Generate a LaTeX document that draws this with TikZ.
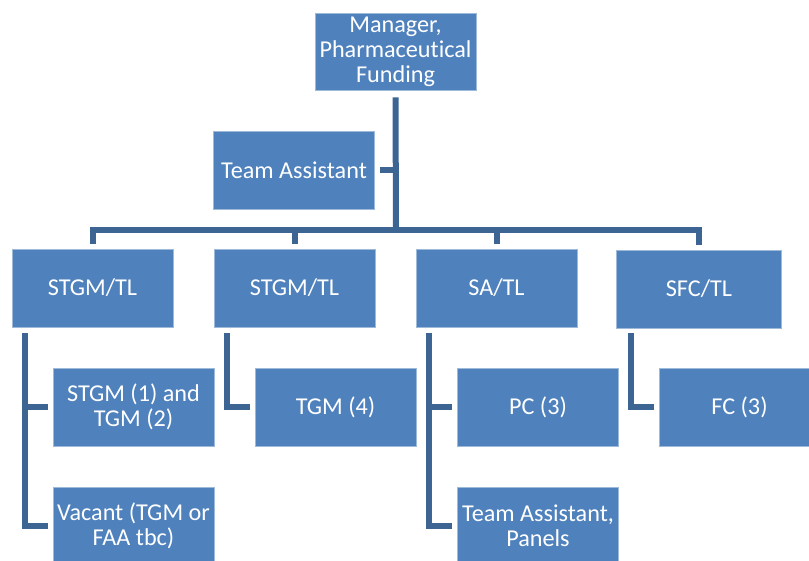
\documentclass[tikz,border=0pt]{standalone}
\usepackage{fontspec}
\setmainfont{Carlito}[Ligatures=NoCommon]
\usetikzlibrary{positioning,calc}
\definecolor{boxblue}{HTML}{4F81BD}
\definecolor{lineblue}{HTML}{3C6594}

\begin{document}
\begin{tikzpicture}[x=1pt, y=1pt, every node/.style={font=\fontsize{24.2}{25}\selectfont, text=white},
    orgbox/.style={fill=boxblue, draw=boxblue!55!white, line width=0.7pt, minimum width=161pt, minimum height=78pt, inner sep=0pt, align=center},
    link/.style={lineblue, line width=6pt}]
                            \useasboundingbox (0,0) rectangle (809,-560);
                            \clip (0,0) rectangle (809,-560);

                            \node at (395.5,-51.5) [orgbox, minimum height=77pt] (mgr) {Manager,\\Pharmaceutical\\Funding};
                            \node at (294,-170) [orgbox] (ta) {Team Assistant};

                            \node at (92.5,-288) [orgbox] (tl1) {STGM/TL};
                            \node at (294.5,-288) [orgbox] (tl2) {STGM/TL};
                            \node at (496.5,-288) [orgbox] (tl3) {SA/TL};
                            \node at (699,-289) [orgbox, minimum width=165pt] (tl4) {SFC/TL};

                            \node at (133.5,-407) [orgbox] (stgm) {STGM (1) and\\TGM (2)};
                            \node at (133.5,-526) [orgbox] (vac) {Vacant (TGM or\\FAA tbc)};
                            \node at (335.5,-407) [orgbox] (tgm) {TGM (4)};
                            \node at (538,-407) [orgbox] (pc) {PC (3)};
                            \node at (538,-526) [orgbox] (tap) {Team Assistant,\\Panels};
                            \node at (739.5,-407) [orgbox] (fc) {FC (3)};

                            \coordinate (hub) at (396,-230);
                            \draw[link] ([yshift=-7pt]mgr.south) -- (hub);
                            \draw[link] ([xshift=5pt]ta.east) -- (ta.east -| hub);
                            \draw[link] ([yshift=5pt]tl1.north) |- (hub) -| ([yshift=5pt]tl4.north);
                            \draw[link] ([yshift=5pt]tl2.north) -- (tl2.north |- hub);
                            \draw[link] ([yshift=5pt]tl3.north) -- (tl3.north |- hub);

                            \coordinate (s1) at ([xshift=13pt,yshift=-6pt]tl1.south west);
                            \coordinate (s2) at ([xshift=13pt,yshift=-6pt]tl2.south west);
                            \coordinate (s3) at ([xshift=13pt,yshift=-6pt]tl3.south west);
                            \coordinate (s4) at ([xshift=15pt,yshift=-5pt]tl4.south west);
                            \draw[link] (s1) |- ([xshift=-5pt]vac.west);
                            \draw[link] (s1 |- stgm.west) -- ([xshift=-5pt]stgm.west);
                            \draw[link] (s2) |- ([xshift=-5pt]tgm.west);
                            \draw[link] (s3) |- ([xshift=-5pt]tap.west);
                            \draw[link] (s3 |- pc.west) -- ([xshift=-5pt]pc.west);
                            \draw[link] (s4) |- ([xshift=-5pt]fc.west);
                     \end{tikzpicture}
\end{document}
